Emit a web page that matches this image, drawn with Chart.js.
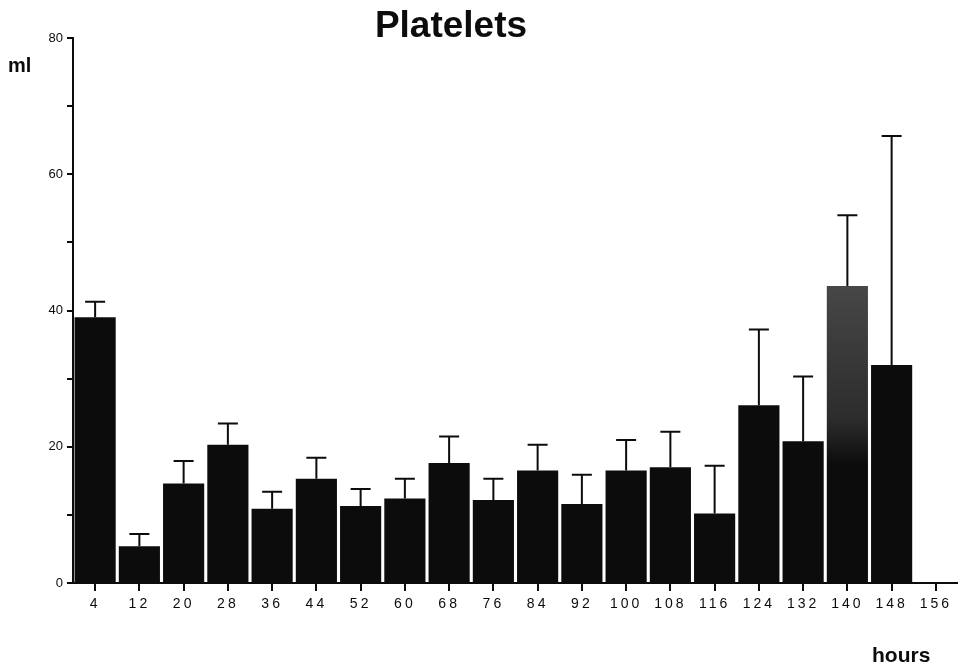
<!DOCTYPE html>
<html>
<head>
<meta charset="utf-8">
<title>Platelets</title>
<script src="https://cdn.jsdelivr.net/npm/chart.js@4/dist/chart.umd.min.js"></script>
<style>
  html, body { margin: 0; padding: 0; background: #fff; }
  #chart { display: block; }
</style>
</head>
<body>
<canvas id="chart" width="958" height="668"></canvas>
<script>
// hours after start
const hours = ["4", "12", "20", "28", "36", "44", "52", "60", "68", "76",
               "84", "92", "100", "108", "116", "124", "132", "140", "148", "156"];
// mean platelets (ml), nothing recorded at 156
const platelets = [39.0, 5.4, 14.6, 20.3, 10.9, 15.3, 11.3, 12.4, 17.6, 12.2,
                   16.5, 11.6, 16.5, 17.0, 10.2, 26.1, 20.8, 43.6, 32.0, null];
// top of the error bar (mean + sd)
const errorTop = [41.3, 7.2, 17.9, 23.4, 13.4, 18.4, 13.8, 15.3, 21.5, 15.3,
                  20.3, 15.9, 21.0, 22.2, 17.2, 37.2, 30.3, 54.0, 65.6, null];
const yLabels = [0, 20, 40, 60, 80];

const FONT = '"Liberation Sans", Arial, Helvetica, sans-serif';
const INK = "#0c0c0c";

// bar 140 is stippled grey at the top in the print
const barFill = (c) => {
  const i = c.dataIndex;
  if (i !== 17 || !c.chart.chartArea) return INK;
  const y = c.chart.scales.y;
  const g = c.chart.ctx.createLinearGradient(0, y.getPixelForValue(platelets[i]), 0, y.getPixelForValue(0));
  g.addColorStop(0, "#474747");
  g.addColorStop(0.45, "#2c2c2c");
  g.addColorStop(0.6, INK);
  g.addColorStop(1, INK);
  return g;
};

// error bars, texts, and letter spacing for the x tick labels only
const errorBars = {
  id: "errorBars",
  beforeDraw(chart) {
    chart.ctx.letterSpacing = "3px";
  },
  beforeDatasetsDraw(chart) {
    chart.ctx.letterSpacing = "0px";
  },
  afterDatasetsDraw(chart) {
    const ctx = chart.ctx;
    const y = chart.scales.y;
    const bars = chart.getDatasetMeta(0).data;
    ctx.save();
    ctx.strokeStyle = INK;
    ctx.lineWidth = 2;
    errorTop.forEach((top, i) => {
      if (top == null || platelets[i] == null) return;
      const x = bars[i].x;
      const y0 = y.getPixelForValue(platelets[i]);
      const y1 = y.getPixelForValue(top);
      ctx.beginPath();
      ctx.moveTo(x, y0);
      ctx.lineTo(x, y1);
      ctx.moveTo(x - 10, y1);
      ctx.lineTo(x + 10, y1);
      ctx.stroke();
    });
    ctx.restore();
  },
  afterDraw(chart) {
    const ctx = chart.ctx;
    ctx.save();
    ctx.letterSpacing = "0px";
    ctx.fillStyle = INK;
    ctx.textBaseline = "alphabetic";
    ctx.font = "bold 37px " + FONT;
    ctx.textAlign = "center";
    ctx.fillText("Platelets", 451, 37);
    ctx.font = "bold 20px " + FONT;
    ctx.textAlign = "left";
    ctx.fillText("ml", 8, 72);
    ctx.font = "bold 21px " + FONT;
    ctx.fillText("hours", 872, 662);
    ctx.restore();
  }
};

new Chart(document.getElementById("chart"), {
  type: "bar",
  data: {
    labels: hours,
    datasets: [{
      data: platelets,
      backgroundColor: barFill,
      borderWidth: 0,
      barPercentage: 0.93,
      categoryPercentage: 1.0
    }]
  },
  options: {
    responsive: false,
    devicePixelRatio: 1,
    animation: false,
    layout: { padding: { top: 38, left: 0, right: 0, bottom: 0 } },
    plugins: {
      legend: { display: false },
      title: { display: false },
      tooltip: { enabled: false }
    },
    scales: {
      x: {
        grid: { display: true, drawOnChartArea: false, offset: false, tickLength: 8, color: INK, lineWidth: 2 },
        border: { color: INK, width: 2 },
        ticks: { color: INK, font: { family: FONT, size: 14 }, padding: 5, maxRotation: 0, autoSkip: false },
        afterFit: (s) => { s.height = 85; }
      },
      y: {
        min: 0,
        max: 80,
        grid: { drawOnChartArea: false, tickLength: 6, color: INK, lineWidth: 2 },
        border: { color: INK, width: 2 },
        ticks: {
          z: 1,
          stepSize: 10,
          color: INK,
          padding: 4,
          font: { family: FONT, size: 13 },
          callback: (v) => (yLabels.includes(v) ? v : "")
        },
        afterFit: (s) => { s.width = 73; }
      }
    }
  },
  plugins: [errorBars]
});
</script>
</body>
</html>
